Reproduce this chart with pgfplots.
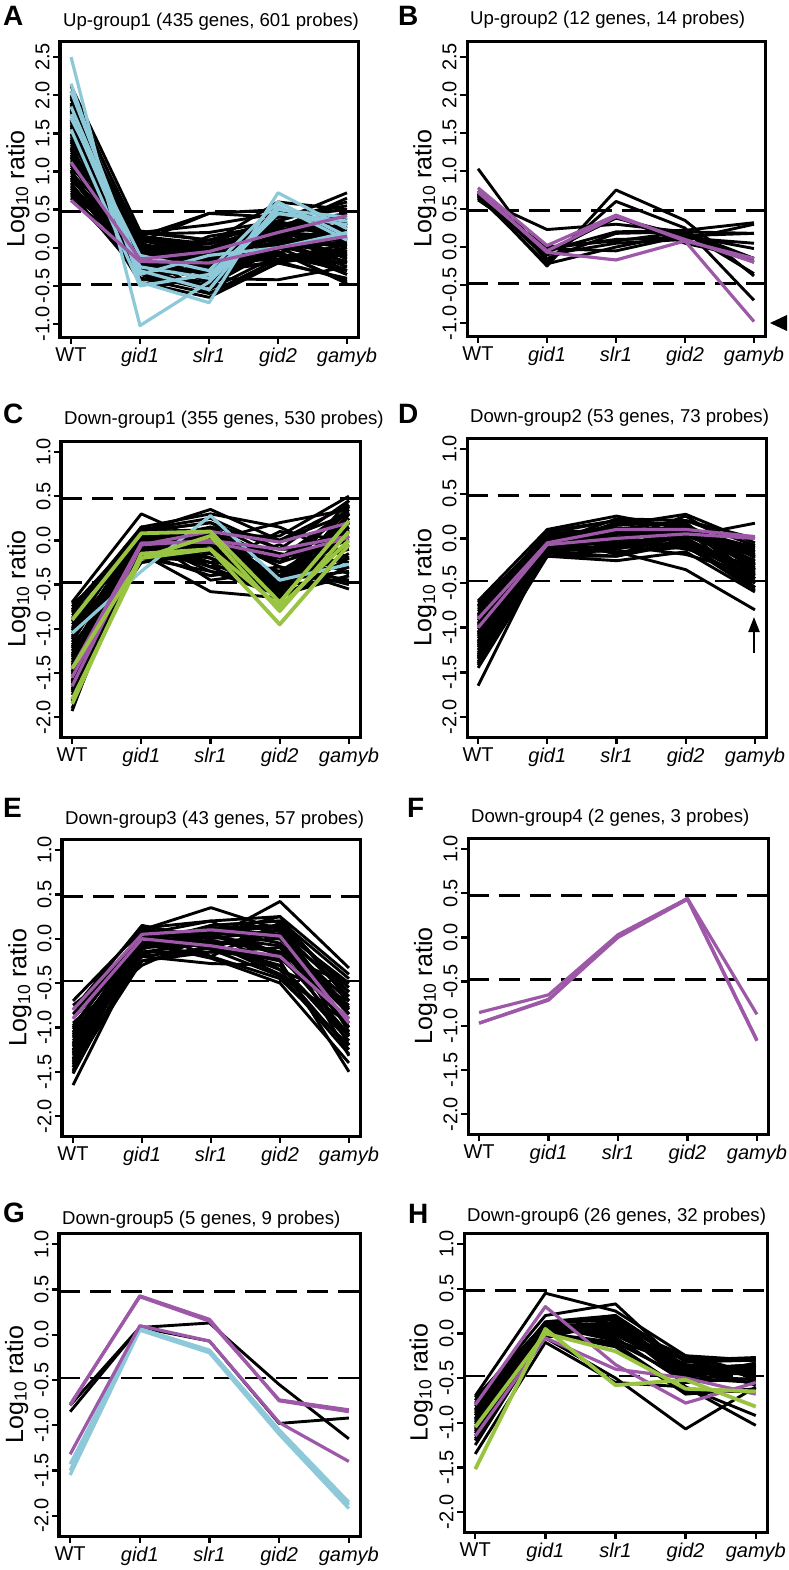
\documentclass[border=0pt]{standalone}
\usepackage{fontspec}
\setmainfont{Liberation Sans}
\usepackage{pgfplots}
\pgfplotsset{compat=1.18}
\usetikzlibrary{arrows.meta}

\definecolor{cblue}{RGB}{141,201,217}
\definecolor{cpurp}{RGB}{158,88,168}
\definecolor{cgreen}{RGB}{152,196,66}

\newcommand{\tf}{\fontsize{20bp}{22bp}\selectfont}
\newcommand{\hf}{\fontsize{18.6bp}{21bp}\selectfont}
\newcommand{\lf}{\fontsize{25bp}{27bp}\selectfont}
\newcommand{\pf}{\fontsize{28bp}{30bp}\selectfont\bfseries}

% one probe = one line over the five genotypes
\newcommand{\Kl}[5]{\addplot[blk] coordinates {(1,#1)(2,#2)(3,#3)(4,#4)(5,#5)};}
\newcommand{\Pl}[5]{\addplot[pur] coordinates {(1,#1)(2,#2)(3,#3)(4,#4)(5,#5)};}
\newcommand{\Bl}[5]{\addplot[blu] coordinates {(1,#1)(2,#2)(3,#3)(4,#4)(5,#5)};}
\newcommand{\Gl}[5]{\addplot[grn] coordinates {(1,#1)(2,#2)(3,#3)(4,#4)(5,#5)};}
\newcommand{\refs}{%
  \addplot[black, line width=2.8bp, dash pattern=on 21bp off 10bp] coordinates {(0.84,0.477)(5.16,0.477)};
  \addplot[black, line width=2.8bp, dash pattern=on 21bp off 10bp] coordinates {(0.84,-0.477)(5.16,-0.477)};}

\pgfplotsset{
  blk/.style={black, line width=2.9bp, line join=round},
  pur/.style={cpurp, line width=3.2bp, line join=round},
  blu/.style={cblue, line width=3.2bp, line join=round},
  grn/.style={cgreen, line width=3.8bp, line join=round},
  panel/.style={
    scale only axis, anchor=north west,
    xmin=0.84, xmax=5.16, xtick={1,2,3,4,5},
    xticklabels={WT,\textit{gid1},\textit{slr1},\textit{gid2},\textit{gamyb}},
    tick pos=left, tick align=outside, major tick length=7bp,
    every tick/.style={black, line width=2.4bp},
    axis line style={line width=3bp},
    ticklabel style={font=\tf},
    yticklabel style={rotate=90, anchor=south},
    xticklabel style={anchor=north},
    ylabel={Log\textsubscript{10} ratio},
    ylabel style={font=\lf, at={(axis description cs:-0.141,0.5)}, anchor=center},
    title style={font=\hf, at={(0,1)}, anchor=base west, inner sep=0pt, xshift=3bp},
  },
  up/.style={panel, ymin=-1.17, ymax=2.71,
    ytick={-1,-0.5,0,0.5,1,1.5,2,2.5},
    yticklabels={-1.0,-0.5,0.0,0.5,1.0,1.5,2.0,2.5}},
  down/.style={panel, ymin=-2.224, ymax=1.124,
    ytick={-2,-1.5,-1,-0.5,0,0.5,1},
    yticklabels={-2.0,-1.5,-1.0,-0.5,0.0,0.5,1.0}},
}

\begin{document}
\begin{tikzpicture}
\path[use as bounding box] (0,0) rectangle (789bp,-1570bp);

% ---------------- A
\begin{axis}[up, at={(60bp,-41bp)}, width=298bp, height=296bp,
  title={Up-group1 (435 genes, 601 probes)}, title style={yshift=9bp}]
\refs
\Kl{2.12}{0.22}{0.1}{0.35}{0.72}
\Kl{2.05}{0.1}{-0.05}{0.3}{0.45}
\Kl{1.98}{0.15}{0.45}{0.5}{0.3}
\Kl{1.95}{-0.05}{-0.2}{0.15}{-0.1}
\Kl{1.9}{0.05}{-0.1}{0.25}{0.65}
\Kl{1.85}{-0.2}{-0.35}{0.05}{0.2}
\Kl{1.8}{0.0}{0.05}{0.6}{0.5}
\Kl{1.75}{-0.1}{-0.3}{-0.1}{-0.3}
\Kl{1.7}{0.18}{0.2}{0.35}{0.1}
\Kl{1.65}{-0.3}{-0.5}{0.0}{0.35}
\Kl{1.6}{0.08}{0.45}{0.4}{0.55}
\Kl{1.55}{-0.15}{-0.2}{0.2}{-0.2}
\Kl{1.5}{0.12}{0.0}{-0.15}{0.0}
\Kl{1.45}{-0.4}{-0.6}{-0.2}{-0.4}
\Kl{1.4}{-0.05}{-0.15}{0.3}{0.25}
\Kl{1.35}{0.2}{0.1}{0.1}{-0.35}
\Kl{1.3}{-0.25}{-0.4}{-0.42}{-0.25}
\Kl{1.25}{0.0}{-0.25}{0.5}{0.4}
\Kl{1.2}{-0.35}{-0.45}{0.05}{0.15}
\Kl{1.15}{0.1}{0.05}{0.25}{-0.15}
\Kl{1.1}{-0.2}{-0.1}{-0.05}{-0.47}
\Kl{1.05}{0.15}{-0.05}{0.2}{0.3}
\Kl{1.0}{-0.45}{-0.65}{-0.2}{-0.05}
\Kl{0.95}{-0.1}{0.0}{0.35}{0.6}
\Kl{0.9}{0.05}{-0.3}{0.1}{-0.25}
\Kl{0.85}{-0.3}{-0.2}{-0.15}{0.05}
\Kl{0.8}{0.0}{0.1}{0.3}{0.2}
\Kl{0.75}{-0.15}{-0.35}{0.0}{-0.35}
\Kl{0.7}{0.1}{-0.1}{0.15}{0.4}
\Kl{0.65}{-0.25}{-0.05}{-0.1}{-0.1}
\Kl{0.62}{-0.05}{-0.2}{0.2}{0.1}
\Kl{1.88}{-0.35}{-0.55}{-0.1}{-0.2}
\Kl{1.62}{0.2}{0.3}{0.45}{0.3}
\Kl{1.42}{-0.1}{-0.45}{0.1}{-0.3}
\Kl{1.22}{0.05}{-0.3}{-0.2}{0.0}
\Kl{1.02}{-0.4}{-0.5}{0.05}{0.25}
\Kl{0.88}{0.15}{0.05}{0.4}{0.5}
\Kl{0.72}{-0.35}{-0.3}{-0.18}{-0.42}
\Kl{1.78}{0.0}{-0.15}{0.2}{0.15}
\Kl{1.32}{-0.2}{0.0}{0.28}{-0.05}
\Kl{1.12}{-0.1}{-0.6}{-0.15}{-0.2}
\Kl{0.98}{0.08}{-0.4}{0.12}{0.05}
\Kl{0.78}{-0.2}{0.15}{0.3}{0.35}
\Kl{1.68}{-0.42}{-0.25}{-0.05}{-0.45}
\Kl{1.48}{0.02}{-0.35}{0.22}{0.45}
\Kl{2.0}{-0.25}{-0.12}{0.08}{0.02}
\Kl{1.58}{-0.02}{-0.08}{0.12}{-0.12}
\Kl{1.38}{0.14}{-0.18}{0.18}{0.08}
\Kl{1.18}{-0.28}{-0.28}{-0.02}{0.32}
\Kl{0.92}{-0.22}{-0.42}{0.02}{-0.18}
\Kl{0.68}{0.04}{-0.12}{0.24}{0.22}
\Kl{1.82}{0.1}{-0.02}{0.14}{0.38}
\Kl{1.28}{-0.08}{-0.22}{0.06}{-0.08}
\Kl{1.08}{0.0}{-0.15}{0.32}{0.12}
\Kl{0.82}{-0.12}{-0.25}{-0.08}{0.28}
\Bl{2.5}{-1.02}{-0.45}{0.45}{0.3}
\Bl{2.15}{-0.45}{-0.72}{0.72}{0.25}
\Bl{2.05}{-0.3}{-0.55}{0.55}{0.1}
\Bl{1.85}{-0.25}{-0.4}{0.5}{0.4}
\Bl{1.75}{-0.35}{-0.1}{0.0}{0.2}
\Bl{1.55}{-0.5}{-0.35}{0.45}{0.35}
\Bl{1.7}{-0.1}{-0.3}{0.6}{0.15}
\Pl{1.12}{-0.15}{-0.05}{0.2}{0.42}
\Pl{0.62}{-0.18}{-0.2}{0.0}{0.15}
\end{axis}

% ---------------- B
\begin{axis}[up, at={(467bp,-41bp)}, width=298bp, height=295bp,
  title={Up-group2 (12 genes, 14 probes)}, title style={yshift=11bp}]
\refs
\Kl{1.03}{-0.2}{0.6}{0.25}{-0.7}
\Kl{0.65}{0.23}{0.3}{0.2}{-0.15}
\Kl{0.7}{-0.25}{0.75}{0.35}{-0.38}
\Kl{0.68}{-0.05}{0.2}{0.22}{0.32}
\Kl{0.72}{-0.1}{0.05}{0.1}{0.3}
\Kl{0.66}{-0.02}{-0.05}{0.15}{0.18}
\Kl{0.7}{-0.15}{0.18}{0.2}{-0.35}
\Kl{0.64}{-0.02}{0.1}{0.12}{0.05}
\Kl{0.74}{-0.05}{0.38}{0.15}{-0.02}
\Kl{0.67}{-0.22}{0.0}{0.18}{-0.2}
\Kl{0.7}{-0.08}{0.4}{0.05}{-0.15}
\Kl{0.62}{0.0}{0.08}{0.2}{0.18}
\Pl{0.78}{0.02}{0.42}{0.08}{-0.15}
\Pl{0.72}{-0.05}{0.4}{0.1}{-0.2}
\Pl{0.74}{-0.07}{-0.17}{0.08}{-0.98}
\end{axis}

% ---------------- C
\begin{axis}[down, at={(61bp,-441bp)}, width=299bp, height=296bp,
  title={Down-group1 (355 genes, 530 probes)}, title style={yshift=11bp}]
\refs
\Kl{-0.7}{0.3}{-0.05}{-0.6}{-0.4}
\Kl{-0.75}{0.1}{0.35}{0.0}{0.3}
\Kl{-0.8}{0.15}{0.0}{0.2}{0.35}
\Kl{-0.85}{-0.05}{-0.2}{-0.55}{0.1}
\Kl{-0.9}{0.05}{0.1}{-0.3}{-0.5}
\Kl{-0.95}{-0.15}{-0.58}{-0.65}{-0.3}
\Kl{-1.0}{0.12}{0.25}{-0.1}{0.45}
\Kl{-1.05}{-0.1}{-0.1}{-0.4}{-0.2}
\Kl{-1.1}{0.0}{-0.25}{-0.6}{0.2}
\Kl{-1.15}{0.08}{0.05}{0.05}{0.5}
\Kl{-1.2}{-0.2}{-0.35}{-0.5}{-0.45}
\Kl{-1.25}{0.1}{0.2}{-0.2}{0.0}
\Kl{-1.3}{-0.1}{-0.05}{-0.65}{0.3}
\Kl{-1.35}{0.05}{-0.3}{-0.35}{-0.1}
\Kl{-1.4}{-0.25}{-0.15}{-0.55}{0.15}
\Kl{-1.45}{0.12}{0.0}{-0.45}{-0.35}
\Kl{-1.5}{0.0}{0.15}{0.0}{0.4}
\Kl{-1.55}{-0.15}{-0.4}{-0.3}{-0.55}
\Kl{-1.6}{0.1}{-0.1}{-0.6}{0.25}
\Kl{-1.65}{-0.05}{0.05}{-0.15}{-0.25}
\Kl{-1.7}{0.05}{-0.2}{-0.5}{0.05}
\Kl{-1.75}{-0.2}{0.1}{-0.25}{0.35}
\Kl{-1.8}{0.0}{-0.3}{-0.62}{-0.4}
\Kl{-1.93}{0.15}{0.0}{-0.4}{0.2}
\Kl{-0.72}{-0.1}{0.15}{-0.25}{0.0}
\Kl{-0.88}{0.0}{-0.35}{-0.62}{0.4}
\Kl{-1.02}{0.15}{0.3}{0.15}{-0.2}
\Kl{-1.18}{-0.25}{-0.1}{-0.55}{0.3}
\Kl{-1.32}{0.05}{0.1}{-0.3}{-0.45}
\Kl{-1.48}{-0.1}{-0.2}{-0.6}{0.1}
\Kl{-1.62}{0.1}{0.2}{-0.1}{-0.1}
\Kl{-1.72}{-0.15}{-0.05}{-0.45}{0.45}
\Kl{-0.78}{0.05}{-0.45}{-0.35}{-0.3}
\Kl{-0.98}{-0.2}{0.0}{-0.6}{0.2}
\Kl{-1.12}{0.1}{-0.15}{-0.2}{0.35}
\Kl{-1.38}{0.15}{0.05}{-0.65}{-0.2}
\Kl{-1.58}{-0.05}{-0.3}{0.1}{0.0}
\Kl{-1.9}{0.0}{0.1}{-0.5}{0.3}
\Kl{-0.82}{0.1}{0.12}{-0.45}{0.25}
\Kl{-1.28}{-0.18}{-0.25}{-0.05}{-0.38}
\Kl{-0.92}{0.02}{-0.05}{-0.2}{0.15}
\Kl{-1.08}{0.06}{0.08}{-0.5}{-0.05}
\Kl{-1.22}{-0.05}{-0.12}{-0.4}{0.22}
\Kl{-1.42}{0.08}{-0.02}{-0.25}{0.32}
\Kl{-1.52}{-0.12}{0.02}{-0.52}{-0.15}
\Kl{-1.68}{0.02}{-0.15}{-0.35}{0.12}
\Kl{-1.82}{-0.08}{0.05}{-0.58}{0.38}
\Bl{-1.05}{-0.35}{0.28}{-0.45}{-0.27}
\Pl{-1.55}{-0.05}{0.1}{-0.02}{0.2}
\Pl{-1.45}{-0.03}{-0.02}{-0.18}{0.03}
\Pl{-1.65}{-0.05}{0.0}{-0.1}{0.05}
\Gl{-0.9}{0.08}{0.1}{-0.7}{0.22}
\Gl{-1.85}{-0.15}{-0.1}{-0.95}{-0.05}
\Gl{-1.8}{-0.2}{-0.1}{-0.75}{0.0}
\Gl{-1.45}{-0.2}{0.05}{-0.8}{0.1}
\end{axis}

% ---------------- D
\begin{axis}[down, at={(467bp,-438bp)}, width=299bp, height=299bp,
  title={Down-group2 (53 genes, 73 probes)}, title style={yshift=10bp}]
\refs
\Kl{-0.7}{0.1}{0.25}{0.1}{-0.1}
\Kl{-0.75}{0.05}{0.1}{0.2}{0.0}
\Kl{-0.8}{-0.05}{0.0}{0.05}{-0.3}
\Kl{-0.85}{0.08}{0.2}{0.15}{-0.2}
\Kl{-0.9}{-0.15}{-0.2}{0.0}{-0.45}
\Kl{-0.95}{0.0}{0.15}{0.27}{-0.05}
\Kl{-1.0}{-0.1}{-0.1}{-0.05}{-0.55}
\Kl{-1.05}{0.05}{0.05}{0.1}{-0.25}
\Kl{-1.1}{-0.2}{-0.25}{-0.15}{-0.6}
\Kl{-1.15}{0.02}{0.1}{0.12}{-0.15}
\Kl{-1.2}{-0.08}{-0.05}{0.0}{-0.4}
\Kl{-1.25}{0.06}{0.2}{0.15}{-0.35}
\Kl{-1.3}{-0.12}{-0.15}{-0.1}{-0.5}
\Kl{-1.35}{0.0}{0.05}{0.05}{-0.2}
\Kl{-1.4}{-0.05}{0.0}{0.1}{-0.3}
\Kl{-1.45}{-0.2}{-0.2}{-0.05}{-0.45}
\Kl{-1.65}{-0.1}{-0.15}{-0.35}{-0.8}
\Kl{-0.78}{-0.2}{-0.12}{0.02}{0.17}
\Kl{-0.88}{0.04}{0.12}{0.08}{-0.12}
\Kl{-0.98}{-0.06}{0.22}{0.2}{-0.08}
\Kl{-1.08}{0.08}{0.08}{0.0}{-0.38}
\Kl{-1.18}{-0.15}{-0.1}{0.1}{-0.28}
\Kl{-1.28}{0.02}{-0.05}{-0.08}{-0.58}
\Kl{-1.38}{-0.1}{0.1}{0.05}{-0.15}
\Kl{-0.72}{0.0}{-0.08}{-0.18}{-0.4}
\Kl{-0.82}{-0.1}{0.18}{0.15}{-0.5}
\Kl{-0.92}{0.07}{-0.02}{0.25}{-0.22}
\Kl{-1.02}{-0.18}{0.05}{-0.02}{-0.35}
\Kl{-1.12}{0.03}{-0.18}{0.05}{-0.1}
\Kl{-1.22}{-0.05}{0.15}{0.18}{-0.45}
\Kl{-1.32}{0.06}{0.0}{-0.12}{-0.3}
\Kl{-1.42}{-0.15}{0.08}{0.1}{-0.55}
\Kl{-0.76}{-0.03}{0.05}{0.12}{-0.33}
\Kl{-1.06}{-0.12}{-0.08}{0.08}{-0.18}
\Kl{-0.86}{0.09}{0.02}{-0.1}{-0.48}
\Kl{-0.96}{-0.02}{0.08}{0.03}{-0.26}
\Kl{-1.16}{0.0}{-0.02}{0.14}{-0.42}
\Kl{-1.34}{-0.08}{0.06}{-0.04}{-0.36}
\Pl{-0.9}{-0.05}{0.1}{0.1}{0.02}
\Pl{-1.0}{-0.07}{0.0}{0.05}{0.0}
\end{axis}

% ---------------- E
\begin{axis}[down, at={(62bp,-839bp)}, width=298bp, height=297bp,
  title={Down-group3 (43 genes, 57 probes)}, title style={yshift=9bp}]
\refs
\Kl{-0.7}{0.1}{0.35}{0.1}{-0.5}
\Kl{-0.8}{0.15}{0.0}{0.42}{-0.33}
\Kl{-0.9}{-0.05}{0.15}{0.2}{-0.45}
\Kl{-1.0}{0.05}{-0.1}{-0.2}{-0.9}
\Kl{-1.05}{-0.2}{-0.28}{-0.3}{-1.1}
\Kl{-1.1}{0.0}{0.1}{0.05}{-0.6}
\Kl{-1.15}{-0.1}{-0.05}{-0.4}{-1.3}
\Kl{-1.2}{0.05}{0.2}{0.25}{-0.7}
\Kl{-1.25}{-0.15}{-0.15}{-0.1}{-1.0}
\Kl{-1.3}{0.08}{0.05}{0.15}{-0.55}
\Kl{-1.35}{-0.05}{-0.2}{-0.45}{-1.2}
\Kl{-1.4}{0.0}{0.12}{0.0}{-0.8}
\Kl{-1.45}{-0.25}{-0.1}{-0.25}{-1.5}
\Kl{-1.5}{0.05}{0.0}{0.1}{-0.65}
\Kl{-1.65}{-0.1}{-0.05}{-0.35}{-1.25}
\Kl{-0.95}{-0.3}{0.05}{-0.15}{-0.75}
\Kl{-1.02}{0.1}{-0.2}{0.18}{-1.05}
\Kl{-1.12}{-0.08}{0.1}{-0.05}{-0.85}
\Kl{-1.22}{0.02}{-0.08}{-0.3}{-1.15}
\Kl{-1.32}{-0.12}{0.15}{0.2}{-0.6}
\Kl{-1.42}{0.06}{-0.12}{-0.42}{-0.95}
\Kl{-1.48}{-0.18}{0.05}{0.05}{-1.32}
\Kl{-0.98}{0.0}{0.08}{-0.35}{-0.7}
\Kl{-1.08}{-0.2}{-0.1}{0.1}{-1.0}
\Kl{-1.18}{0.12}{0.2}{-0.2}{-0.5}
\Kl{-1.28}{-0.05}{-0.22}{-0.5}{-1.4}
\Kl{-1.38}{0.04}{0.1}{0.12}{-0.85}
\Kl{-1.52}{-0.08}{-0.02}{-0.15}{-1.1}
\Kl{-0.75}{-0.15}{-0.05}{0.0}{-0.7}
\Kl{-0.85}{0.02}{0.12}{0.15}{-1.2}
\Kl{-1.18}{-0.25}{-0.15}{-0.22}{-0.9}
\Kl{-1.45}{0.1}{0.05}{0.25}{-0.4}
\Kl{-1.06}{-0.04}{0.02}{-0.08}{-0.95}
\Kl{-1.26}{0.03}{-0.06}{0.06}{-0.78}
\Kl{-1.36}{-0.1}{0.04}{-0.18}{-1.08}
\Pl{-0.8}{0.05}{0.1}{0.03}{-0.95}
\Pl{-0.9}{0.0}{-0.08}{-0.2}{-0.9}
\end{axis}

% ---------------- F
\begin{axis}[down, at={(468bp,-838bp)}, width=300bp, height=296bp,
  title={Down-group4 (2 genes, 3 probes)}, title style={yshift=10bp}]
\refs
\Pl{-0.85}{-0.65}{0.03}{0.44}{-0.87}
\Pl{-0.97}{-0.7}{0.0}{0.43}{-1.17}
\Pl{-0.97}{-0.71}{0.01}{0.44}{-1.16}
\end{axis}

% ---------------- G
\begin{axis}[down, at={(59bp,-1233bp)}, width=301bp, height=303bp,
  title={Down-group5 (5 genes, 9 probes)}, title style={yshift=3bp}]
\refs
\Kl{-0.85}{0.08}{0.13}{-0.55}{-1.15}
\Kl{-0.78}{0.08}{-0.07}{-0.98}{-0.92}
\Bl{-1.43}{0.07}{-0.17}{-1.05}{-1.85}
\Bl{-1.55}{0.05}{-0.2}{-1.1}{-1.92}
\Bl{-1.5}{0.06}{-0.18}{-1.08}{-1.88}
\Pl{-0.78}{0.43}{0.17}{-0.73}{-0.85}
\Pl{-0.77}{0.42}{0.15}{-0.72}{-0.83}
\Pl{-1.32}{0.1}{-0.07}{-0.97}{-1.4}
\end{axis}

% ---------------- H
\begin{axis}[down, at={(464bp,-1233bp)}, width=303bp, height=299bp,
  title={Down-group6 (26 genes, 32 probes)}, title style={yshift=6bp}]
\refs
\Kl{-0.7}{0.45}{0.25}{-0.25}{-0.3}
\Kl{-0.75}{0.2}{0.33}{-0.4}{-0.35}
\Kl{-0.8}{0.12}{0.15}{-0.3}{-0.3}
\Kl{-0.85}{0.05}{0.1}{-0.45}{-0.45}
\Kl{-0.9}{0.1}{0.05}{-0.35}{-0.4}
\Kl{-0.95}{0.0}{-0.1}{-0.5}{-0.55}
\Kl{-1.0}{0.08}{0.12}{-0.3}{-0.27}
\Kl{-1.05}{0.1}{-0.05}{-0.55}{-0.5}
\Kl{-1.1}{-0.05}{-0.5}{-1.07}{-0.6}
\Kl{-1.15}{0.12}{0.0}{-0.4}{-0.35}
\Kl{-1.2}{0.03}{0.08}{-0.25}{-0.45}
\Kl{-1.35}{-0.1}{-0.55}{-0.6}{-1.03}
\Kl{-0.78}{0.1}{0.2}{-0.6}{-0.92}
\Kl{-0.88}{-0.02}{-0.12}{-0.65}{-0.65}
\Kl{-0.98}{0.07}{0.1}{-0.45}{-0.38}
\Kl{-1.08}{0.04}{0.02}{-0.3}{-0.5}
\Kl{-1.18}{0.11}{0.18}{-0.38}{-0.42}
\Kl{-0.82}{0.0}{0.05}{-0.5}{-0.33}
\Kl{-0.92}{0.09}{-0.08}{-0.35}{-0.58}
\Kl{-1.02}{-0.05}{0.13}{-0.42}{-0.4}
\Kl{-1.12}{0.06}{0.0}{-0.28}{-0.48}
\Kl{-0.72}{0.11}{0.07}{-0.55}{-0.36}
\Kl{-1.25}{0.0}{-0.15}{-0.68}{-0.62}
\Kl{-0.86}{0.13}{0.2}{-0.32}{-0.3}
\Kl{-0.96}{0.03}{0.09}{-0.47}{-0.52}
\Kl{-1.06}{0.08}{-0.02}{-0.4}{-0.44}
\Pl{-0.8}{0.3}{-0.35}{-0.78}{-0.55}
\Pl{-1.15}{-0.05}{-0.4}{-0.5}{-0.68}
\Gl{-1.52}{0.05}{-0.58}{-0.52}{-0.82}
\Gl{-1.05}{0.0}{-0.2}{-0.62}{-0.65}
\end{axis}

% panel letters and marks
\node[anchor=base west, font=\pf, inner sep=0pt] at (3bp,-25bp) {A};
\node[anchor=base west, font=\pf, inner sep=0pt] at (398bp,-25bp) {B};
\node[anchor=base west, font=\pf, inner sep=0pt] at (3bp,-423bp) {C};
\node[anchor=base west, font=\pf, inner sep=0pt] at (398bp,-423bp) {D};
\node[anchor=base west, font=\pf, inner sep=0pt] at (3bp,-817bp) {E};
\node[anchor=base west, font=\pf, inner sep=0pt] at (407bp,-817bp) {F};
\node[anchor=base west, font=\pf, inner sep=0pt] at (3bp,-1222bp) {G};
\node[anchor=base west, font=\pf, inner sep=0pt] at (408bp,-1223bp) {H};
\fill (770bp,-323bp) -- (787bp,-315bp) -- (787bp,-331bp) -- cycle;
\draw[line width=2.2bp, -{Triangle[length=15bp, width=11bp]}] (754bp,-653bp) -- (754bp,-617bp);
\end{tikzpicture}
\end{document}
